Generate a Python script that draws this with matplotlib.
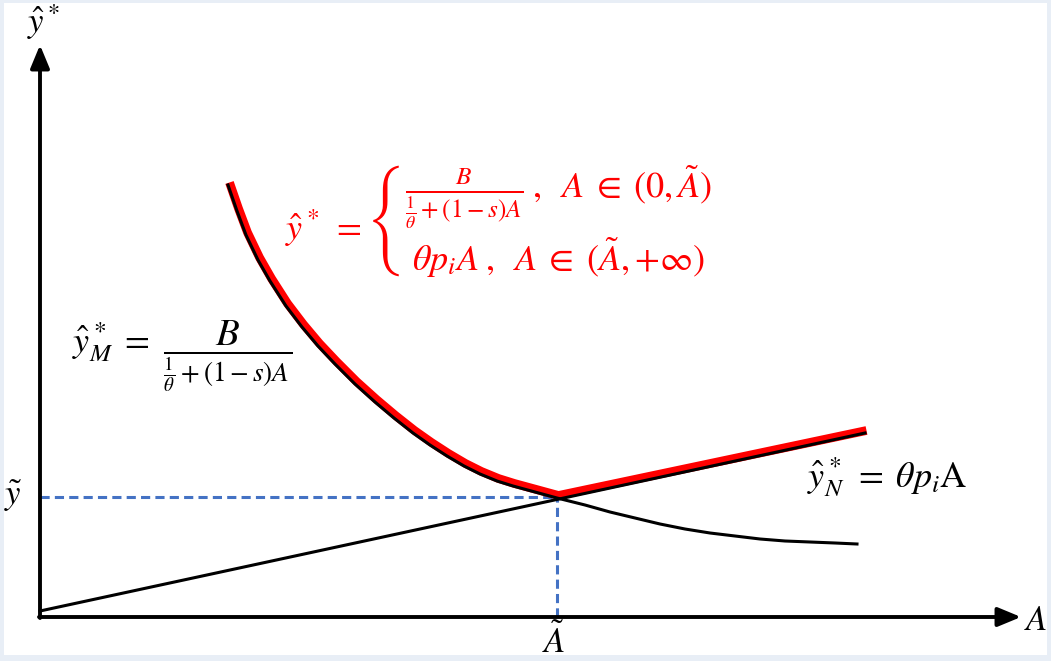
import matplotlib
matplotlib.use("Agg")
import matplotlib.pyplot as plt
from matplotlib import transforms

plt.rcParams['mathtext.fontset'] = 'stix'
plt.rcParams['font.family'] = ['STIXGeneral', 'DejaVu Sans']

# ---- data (schematic units) ----
A_M = [188, 197, 206, 218, 230, 246, 262, 278, 295, 315, 335, 354, 373, 390, 407,
       424, 440, 457, 473, 495, 517, 545, 570, 595, 620, 645, 670, 695, 720, 745,
       770, 795, 817]
Y_M = [432, 406, 382, 357, 336, 311, 290, 271, 253, 233, 215, 199, 184, 172, 161,
       151, 143, 136, 131, 125, 119, 112, 105, 99, 93, 88, 84, 81, 78, 76,
       75, 74, 73]
A_N = [0, 825]
Y_N = [6, 184]
A_tilde = 517
y_tilde = 120
x_axis_end = 981
y_axis_end = 572

# red envelope: M curve up to A_tilde, then N line
idx = A_M.index(A_tilde)
A_red = A_M[:idx + 1] + [A_N[1]]
Y_red = Y_M[:idx + 1] + [Y_N[1]]

fig = plt.figure(figsize=(10.51, 6.61), dpi=100, facecolor='#E8EEF6')
ax = fig.add_axes([4 / 1051, 6 / 661, 1043 / 1051, 652 / 661])
ax.set_facecolor('white')
ax.set_xlim(-36, 1007)
ax.set_ylim(-38, 614)
for s in ax.spines.values():
    s.set_visible(False)
ax.set_xticks([])
ax.set_yticks([])

# axes arrows
arrow_kw = dict(arrowstyle='-|>,head_length=1.4,head_width=0.58', lw=2.8,
                color='black', shrinkA=0, shrinkB=0, mutation_scale=10)
ax.annotate('', xy=(x_axis_end, 0), xytext=(-1, 0), arrowprops=arrow_kw)
ax.annotate('', xy=(0, y_axis_end), xytext=(0, -1), arrowprops=arrow_kw)

# dashed guides
blue = '#4472C4'
ax.plot([0, A_tilde], [y_tilde, y_tilde], color=blue, lw=2.2, dashes=(3.0, 1.7), zorder=2)
ax.plot([A_tilde, A_tilde], [0, y_tilde], color=blue, lw=2.2, dashes=(3.0, 1.7), zorder=2)

# red envelope (slightly offset, beneath black)
red_tr = transforms.offset_copy(ax.transData, fig=fig, x=1.5, y=2.5, units='dots')
ax.plot(A_red, Y_red, color='#FF0000', lw=6.3, solid_capstyle='butt',
        solid_joinstyle='round', transform=red_tr, zorder=3)

# black curves
ax.plot(A_M, Y_M, color='black', lw=2.2, solid_joinstyle='round', zorder=4)
ax.plot(A_N, Y_N, color='black', lw=2.2, zorder=4)

fs = 25
# axis labels
ax.text(3, 595, r"$\hat{y}^*$", fontsize=fs, ha='center', va='center', zorder=6)
ax.text(996, -5, r"$A$", fontsize=fs, ha='center', va='center', zorder=6)
ax.text(A_tilde - 3, -26, r"$\tilde{A}$", fontsize=fs, ha='center', va='center', zorder=6)
ax.text(-27, y_tilde + 1, r"$\tilde{y}$", fontsize=fs, ha='center', va='center', zorder=6)

# M label
ax.text(32, 275, r"$\hat{y}_M^*\;=$", fontsize=26, ha='left', va='center')
ax.text(188, 261, r"$\dfrac{B}{{}_{\frac{1}{\theta}+(1-s)A}}$", fontsize=28,
        ha='center', va='center')

# N label
ax.text(847, 140, r"$\hat{y}_N^*\;=\;\theta p_i\mathrm{A}$", fontsize=26,
        ha='center', va='center')

# red piecewise
ax.text(245, 396,
        r"$\hat{y}^*\;=\left\{\genfrac{}{}{0}{0}"
        r"{\frac{B}{\frac{1}{\theta}+(1-s)A}\;,\;\;A\;\in\;(0,\tilde{A})}"
        r"{\theta p_i A\;,\;\;A\;\in\;(\tilde{A},{+}\infty)}\right.$",
        fontsize=26, color='#FF0000', ha='left', va='center')

fig.savefig('out.png', dpi=100, facecolor=fig.get_facecolor())
